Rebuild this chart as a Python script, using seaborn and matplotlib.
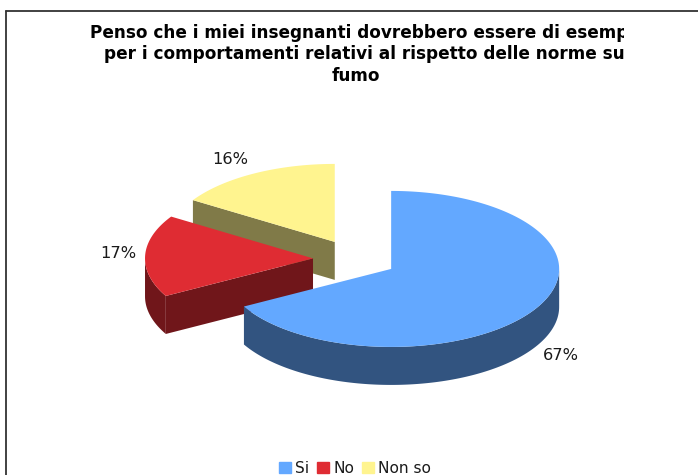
import numpy as np
import matplotlib
matplotlib.use('Agg')
import matplotlib.pyplot as plt
from matplotlib.patches import Patch, Rectangle
import seaborn as sns

# --- dati ---
categories = ['Si', 'No', 'Non so']
values = [67, 17, 16]
title_lines = ['Penso che i miei insegnanti dovrebbero essere di esempio',
               'per i comportamenti relativi al rispetto delle norme sul',
               'fumo']

# --- stile ---
top_colors = sns.color_palette(['#63A8FF', '#DF2C33', '#FFF48F'])
side_colors = [tuple(c * 0.5 for c in col) for col in top_colors]
text_color = '#1a1a1a'
label_pos = [(561, 355), (118, 253), (230, 160)]

# geometria della torta, in pixel
cx, cy = 355, 259
rx, ry = 168, 78
depth = 38
explode = 42

sns.set_theme(style='white')
plt.rcParams['font.family'] = ['DejaVu Sans']

fig = plt.figure(figsize=(6.98, 4.75), dpi=100)
ax = fig.add_axes([0, 0, 1, 1])
ax.set_xlim(0, 698)
ax.set_ylim(475, 0)
ax.axis('off')

# cornice
ax.plot([6, 6], [475, 10.5], color='#333333', lw=1.3)
ax.plot([6, 698], [10.5, 10.5], color='#333333', lw=1.3)


def rim(x0, y0, a):
    return x0 + rx * np.sin(a), y0 - ry * np.cos(a)


# angoli in senso orario dalle ore 12
edges = np.radians(np.cumsum([0] + values) / sum(values) * 360)

for i in [2, 1, 0]:
    a0, a1 = edges[i], edges[i + 1]
    mid = (a0 + a1) / 2
    x0 = cx + explode * np.sin(mid)
    y0 = cy - explode * (ry / rx) * np.cos(mid)

    # facce radiali visibili
    for a, show in [(a0, np.sin(a0) < -1e-6), (a1, np.sin(a1) > 1e-6)]:
        if show:
            xr, yr = rim(x0, y0, a)
            ax.fill([x0, xr, xr, x0], [y0, yr, yr + depth, y0 + depth],
                    color=side_colors[i], lw=0)

    # bordo esterno sul davanti
    lo, hi = max(a0, np.pi / 2), min(a1, 3 * np.pi / 2)
    if hi > lo:
        t = np.linspace(lo, hi, 120)
        xs, ys = rim(x0, y0, t)
        ax.fill(np.r_[xs, xs[::-1]], np.r_[ys, ys[::-1] + depth],
                color=side_colors[i], lw=0)

    # faccia superiore
    t = np.linspace(a0, a1, 200)
    xs, ys = rim(x0, y0, t)
    ax.fill(np.r_[x0, xs], np.r_[y0, ys], color=top_colors[i], lw=0)

for val, (lx, ly) in zip(values, label_pos):
    ax.text(lx, ly, f'{val}%', ha='center', va='center', fontsize=11.7, color=text_color)

# titolo, tagliato a destra come nell'originale
clip = Rectangle((0, 0), 624, 475, transform=ax.transData)
for txt, x, y, ha in zip(title_lines, [90, 104, 356], [33, 54, 76], ['left', 'left', 'center']):
    t = ax.text(x, y, txt, ha=ha, va='center', fontsize=12.2, fontweight='bold', color='black')
    t.set_clip_path(clip)
    t.set_clip_on(True)

handles = [Patch(color=c, label=n) for c, n in zip(top_colors, categories)]
ax.legend(handles=handles, loc='lower center', bbox_to_anchor=(355 / 698, -0.002), ncol=3,
          frameon=False, fontsize=11.1, handlelength=0.78, handleheight=0.78,
          handletextpad=0.26, columnspacing=0.52, borderpad=0, borderaxespad=0,
          labelcolor=text_color)

fig.savefig('out.png', dpi=100)
